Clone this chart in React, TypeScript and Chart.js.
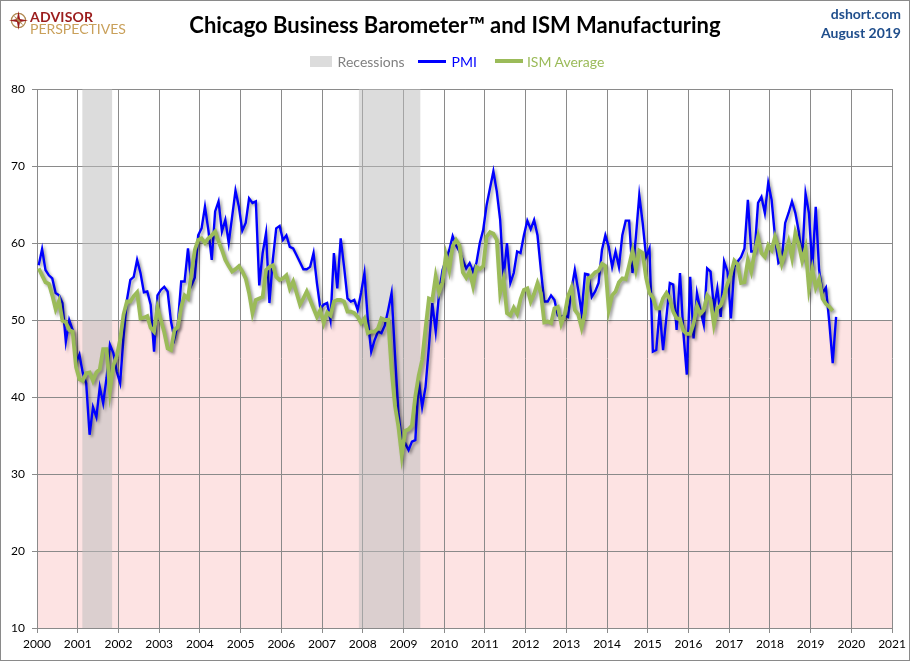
import React, { useEffect, useRef } from "react";
import { Chart, registerables } from "chart.js";

Chart.register(...registerables);

// ---------- data ----------
const FIRST_YEAR = 2000;

const yearTicks = [
  2000, 2001, 2002, 2003, 2004, 2005, 2006, 2007, 2008, 2009, 2010,
  2011, 2012, 2013, 2014, 2015, 2016, 2017, 2018, 2019, 2020, 2021,
];
const valueTicks = [10, 20, 30, 40, 50, 60, 70, 80];

// recession bands in decimal years
const recessionStarts = [2001.11, 2007.9];
const recessionEnds = [2001.85, 2009.42];

// Chicago PMI, monthly Jan 2000 .. Aug 2019
const pmiValues = [
  57.1, 59.2, 56.5, 55.8, 55.4, 53.5, 53.2, 52.2, 47.2, 50.0, 48.7, 44.4,
  45.5, 43.1, 41.8, 35.1, 38.7, 37.4, 41.3, 39.2, 42.5, 46.8, 45.7, 43.3,
  41.8, 47.8, 52.6, 55.2, 55.6, 57.8, 56.1, 53.6, 53.7, 52.0, 45.9, 53.2,
  53.9, 54.3, 53.7, 49.8, 47.6, 49.5, 55.0, 55.0, 59.3, 54.5, 55.5, 61.0,
  61.9, 64.7, 61.7, 57.8, 64.1, 65.4, 61.5, 63.0, 60.0, 63.4, 66.8, 64.7,
  61.6, 62.6, 65.8, 65.2, 65.4, 54.5, 58.7, 61.3, 52.2, 57.8, 61.9, 62.2,
  60.4, 61.0, 59.5, 59.3, 58.4, 57.5, 56.6, 56.6, 56.9, 58.7, 54.8, 51.5,
  52.0, 52.2, 50.0, 58.7, 54.1, 60.6, 56.9, 52.8, 52.4, 52.6, 51.3, 53.5,
  56.1, 50.0, 45.9, 47.4, 48.5, 48.3, 49.3, 51.3, 53.5, 45.5, 38.0, 34.2,
  34.0, 33.1, 34.2, 34.4, 42.2, 38.7, 41.3, 46.5, 52.2, 48.5, 53.5, 56.5,
  57.8, 59.1, 60.9, 59.7, 58.9, 57.8, 56.7, 57.4, 56.3, 57.4, 60.0, 61.7,
  64.9, 67.1, 69.3, 66.7, 63.0, 55.5, 60.0, 54.8, 56.1, 58.9, 58.7, 61.0,
  62.9, 61.8, 63.0, 61.0, 56.5, 52.4, 52.4, 53.2, 52.6, 50.6, 50.4, 50.6,
  50.4, 53.9, 56.5, 53.9, 50.9, 56.0, 55.9, 53.0, 53.7, 54.8, 59.1, 61.0,
  59.5, 56.9, 58.9, 56.9, 61.0, 62.9, 62.9, 56.1, 60.8, 66.2, 62.6, 58.2,
  59.3, 45.9, 46.1, 51.3, 46.1, 50.4, 54.8, 54.6, 48.7, 56.1, 48.3, 42.9,
  55.6, 47.6, 53.5, 51.3, 49.4, 56.7, 56.3, 51.5, 54.1, 50.4, 57.6, 56.3,
  50.2, 56.9, 57.6, 58.2, 59.3, 65.6, 58.9, 58.9, 65.2, 66.0, 63.9, 67.8,
  65.6, 60.8, 57.4, 57.8, 62.6, 63.9, 65.4, 63.9, 61.5, 57.8, 66.4, 63.9,
  56.7, 64.7, 56.5, 53.5, 54.2, 49.7, 44.4, 50.4,
];

// ISM Manufacturing, monthly Jan 2000 .. Jul 2019
const ismValues = [
  56.7, 55.8, 54.9, 54.7, 53.2, 51.4, 52.5, 49.9, 49.7, 48.7, 48.5, 43.9,
  42.3, 42.1, 43.1, 43.2, 42.1, 43.2, 43.6, 46.2, 46.2, 40.8, 44.1, 45.3,
  47.5, 50.7, 52.4, 52.4, 53.1, 53.6, 50.2, 50.3, 50.5, 49.0, 48.5, 51.6,
  50.0, 48.4, 46.3, 46.1, 48.7, 49.1, 51.7, 53.2, 52.8, 56.1, 59.1, 60.4,
  60.6, 60.0, 60.6, 61.0, 61.5, 60.2, 59.1, 57.8, 57.0, 56.3, 56.6, 57.0,
  56.3, 55.4, 53.5, 50.9, 52.6, 52.8, 53.0, 56.5, 56.9, 57.1, 55.6, 55.2,
  55.4, 55.8, 54.1, 55.0, 53.5, 52.0, 52.8, 53.7, 52.6, 51.5, 50.4, 51.3,
  49.6, 51.0, 50.6, 52.4, 52.6, 52.6, 52.4, 51.1, 51.1, 50.9, 50.4, 49.6,
  50.2, 48.3, 48.5, 48.5, 48.9, 50.2, 50.0, 50.0, 43.5, 38.9, 36.2, 32.4,
  35.6, 35.8, 36.3, 40.1, 42.8, 44.8, 48.9, 52.8, 52.6, 55.7, 53.6, 54.9,
  58.4, 56.5, 59.6, 60.4, 59.7, 56.2, 55.5, 56.3, 54.4, 56.9, 56.6, 57.0,
  60.8, 61.4, 61.2, 60.4, 53.5, 55.3, 50.9, 50.6, 51.6, 50.8, 52.7, 53.9,
  54.1, 52.4, 53.4, 54.8, 53.5, 49.7, 49.8, 49.6, 51.5, 51.7, 49.5, 50.7,
  53.1, 54.2, 51.3, 50.7, 49.0, 50.9, 55.4, 55.7, 56.2, 56.4, 57.3, 57.0,
  51.3, 53.2, 53.7, 54.9, 55.4, 55.3, 57.1, 59.0, 56.6, 59.0, 58.7, 55.5,
  53.5, 52.9, 51.5, 51.5, 52.8, 53.5, 52.7, 51.1, 50.2, 50.1, 48.6, 48.2,
  48.2, 49.5, 51.8, 50.8, 51.3, 53.2, 52.6, 49.4, 51.5, 51.9, 53.2, 54.7,
  56.0, 57.7, 57.2, 54.8, 54.9, 57.8, 56.3, 58.8, 60.8, 58.7, 58.2, 59.7,
  59.1, 60.8, 59.3, 57.3, 58.7, 60.2, 58.1, 61.3, 59.8, 57.7, 59.3, 54.1,
  56.6, 54.2, 55.3, 52.8, 52.1, 51.7, 51.2,
];

const expansionLine = 50;

// ---------- style ----------
const FONT = "Lato, 'Open Sans', 'DejaVu Sans', sans-serif";
const GRID = "#8a8a8a";
const BLUE = "#0000ff";
const GREEN = "#9bbb59";
const RECESSION_FILL = "rgba(188,188,188,0.52)";

const toPoints = (vals: number[]) =>
  vals.map((v, i) => ({ x: FIRST_YEAR + (i + 0.5) / 12, y: v }));

const contractionPlugin = {
  id: "contractionZone",
  beforeDraw(chart: any) {
    const { ctx, chartArea, scales } = chart;
    if (!chartArea) return;
    const y = scales.y.getPixelForValue(expansionLine);
    ctx.save();
    ctx.fillStyle = "#fde3e3";
    ctx.fillRect(chartArea.left, y, chartArea.right - chartArea.left, chartArea.bottom - y);
    ctx.restore();
  },
};

const shadowPlugin = {
  id: "lineShadow",
  beforeDatasetDraw(chart: any, args: any) {
    const ds: any = chart.data.datasets[args.index];
    if (!ds.shadow) return;
    const ctx = chart.ctx;
    ctx.save();
    ctx.shadowColor = "rgba(0,0,0,0.38)";
    ctx.shadowBlur = 3;
    ctx.shadowOffsetX = 2;
    ctx.shadowOffsetY = 2;
  },
  afterDatasetDraw(chart: any, args: any) {
    const ds: any = chart.data.datasets[args.index];
    if (!ds.shadow) return;
    chart.ctx.restore();
  },
};

function ChartCanvas() {
  const ref = useRef<HTMLCanvasElement | null>(null);

  useEffect(() => {
    if (!ref.current) return;
    const recessionSets = recessionStarts.map((s, i) => ({
      label: "Recessions",
      data: [
        { x: s, y: 80 },
        { x: recessionEnds[i], y: 80 },
      ],
      borderWidth: 0,
      borderColor: "rgba(0,0,0,0)",
      backgroundColor: RECESSION_FILL,
      fill: "start",
      pointRadius: 0,
    }));

    const chart = new Chart(ref.current, {
      type: "line",
      data: {
        datasets: [
          {
            label: "ISM Average",
            data: toPoints(ismValues),
            borderColor: GREEN,
            borderWidth: 3.8,
            pointRadius: 0,
            tension: 0,
            fill: false,
            shadow: true,
          } as any,
          {
            label: "PMI",
            data: toPoints(pmiValues),
            borderColor: BLUE,
            borderWidth: 2.4,
            pointRadius: 0,
            tension: 0,
            fill: false,
            shadow: true,
          } as any,
          ...recessionSets,
        ],
      },
      options: {
        animation: false,
        responsive: false,
        devicePixelRatio: 1,
        events: [],
        layout: { padding: { top: 89, right: 14, left: 0, bottom: 0 } },
        plugins: {
          legend: { display: false },
          title: { display: false },
          tooltip: { enabled: false },
        },
        scales: {
          x: {
            type: "linear",
            min: 2000,
            max: 2021,
            afterBuildTicks: (scale: any) => {
              scale.ticks = yearTicks.map((v) => ({ value: v }));
            },
            afterFit: (scale: any) => {
              scale.height = 33;
            },
            ticks: {
              autoSkip: false,
              maxRotation: 0,
              minRotation: 0,
              padding: 4,
              color: "#000",
              font: { family: FONT, size: 12 },
              callback: (v: any) => String(v),
            },
            grid: { color: GRID, lineWidth: 1, tickLength: 5, drawTicks: true },
            border: { color: GRID, width: 1 },
          },
          y: {
            type: "linear",
            min: 10,
            max: 80,
            afterBuildTicks: (scale: any) => {
              scale.ticks = valueTicks.map((v) => ({ value: v }));
            },
            afterFit: (scale: any) => {
              scale.width = 37;
            },
            ticks: {
              padding: 7,
              color: "#000",
              font: { family: FONT, size: 12 },
              callback: (v: any) => String(v),
            },
            grid: { color: GRID, lineWidth: 1, tickLength: 5, drawTicks: true },
            border: { color: GRID, width: 1 },
          },
        },
      },
      plugins: [contractionPlugin, shadowPlugin],
    } as any);

    return () => chart.destroy();
  }, []);

  return (
    <canvas
      ref={ref}
      width={910}
      height={661}
      style={{ position: "absolute", left: 0, top: 0, width: 910, height: 661 }}
    />
  );
}

function Logo() {
  return (
    <div style={{ position: "absolute", left: 9, top: 9, height: 26 }}>
      <svg width="19" height="19" viewBox="0 0 20 20" style={{ position: "absolute", left: 0, top: 2 }}>
        <circle cx="10" cy="10" r="7.5" fill="none" stroke="#b08850" strokeWidth="1.3" />
        <path d="M10 0 L11.6 8.4 L20 10 L11.6 11.6 L10 20 L8.4 11.6 L0 10 L8.4 8.4 Z" fill="#9b1c1c" />
        <path d="M4.5 4.5 L10.8 9.2 L15.5 15.5 L9.2 10.8 Z" fill="#b08850" />
      </svg>
      <div
        style={{
          position: "absolute",
          left: 21,
          top: -1,
          fontFamily: FONT,
          fontWeight: 700,
          fontSize: 14,
          color: "#9b1c1c",
          whiteSpace: "nowrap",
          letterSpacing: 0.2,
        }}
      >
        ADVISOR
      </div>
      <div
        style={{
          position: "absolute",
          left: 21,
          top: 11,
          fontFamily: FONT,
          fontWeight: 400,
          fontSize: 14,
          color: "#c9a05a",
          whiteSpace: "nowrap",
        }}
      >
        PERSPECTIVES
      </div>
    </div>
  );
}

function Legend() {
  const text = { fontFamily: FONT, fontSize: 14, whiteSpace: "nowrap" as const };
  return (
    <div
      style={{
        position: "absolute",
        left: 0,
        top: 52,
        width: 914,
        height: 18,
        display: "flex",
        justifyContent: "center",
        alignItems: "center",
      }}
    >
      <span style={{ display: "inline-block", width: 22, height: 11, background: "#dcdcdc", marginRight: 6 }} />
      <span style={{ ...text, color: "#808080", marginRight: 13 }}>Recessions</span>
      <span style={{ display: "inline-block", width: 28, height: 3, background: BLUE, marginRight: 6 }} />
      <span style={{ ...text, color: BLUE, marginRight: 18 }}>PMI</span>
      <span style={{ display: "inline-block", width: 28, height: 4, background: GREEN, marginRight: 4 }} />
      <span style={{ ...text, color: GREEN }}>ISM Average</span>
    </div>
  );
}

export default function App() {
  return (
    <div
      style={{
        position: "absolute",
        left: 0,
        top: 0,
        width: 910,
        height: 661,
        background: "#fff",
        overflow: "hidden",
      }}
    >
      <ChartCanvas />
      <Logo />
      <div
        style={{
          position: "absolute",
          left: 0,
          top: 11,
          width: 910,
          textAlign: "center",
          fontFamily: FONT,
          fontWeight: 700,
          fontSize: 22,
          color: "#000",
          whiteSpace: "nowrap",
        }}
      >
        Chicago Business Barometer™ and ISM Manufacturing
      </div>
      <div
        style={{
          position: "absolute",
          right: 9,
          top: 4,
          textAlign: "right",
          fontFamily: FONT,
          fontWeight: 700,
          fontSize: 14,
          lineHeight: "19px",
          color: "#1f4e8c",
        }}
      >
        <div>dshort.com</div>
        <div>August 2019</div>
      </div>
      <Legend />
      <div
        style={{
          position: "absolute",
          left: 0,
          top: 0,
          width: 910,
          height: 661,
          boxSizing: "border-box",
          border: "1px solid #8a8a8a",
          pointerEvents: "none",
        }}
      />
    </div>
  );
}
